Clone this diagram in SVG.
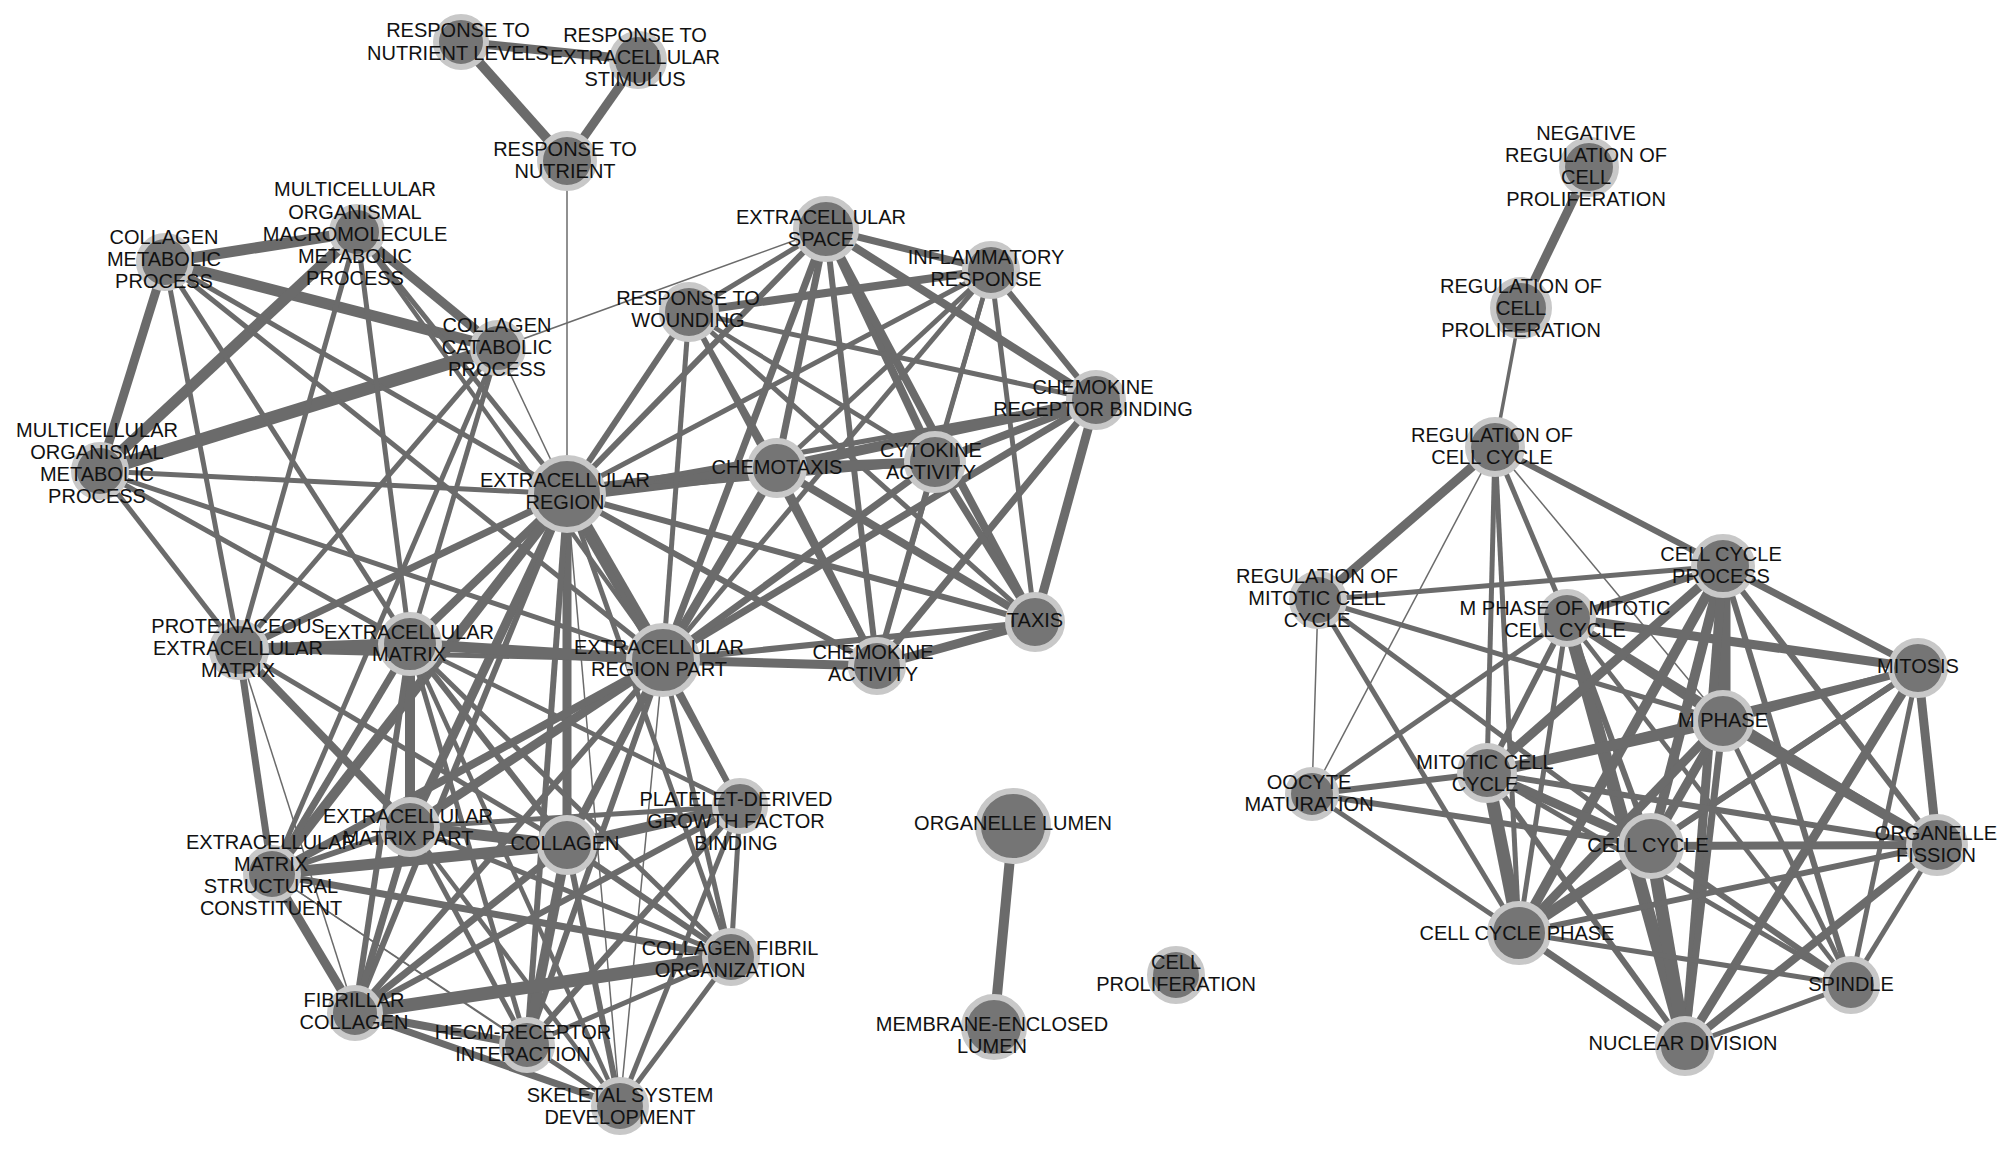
<svg xmlns="http://www.w3.org/2000/svg" width="2008" height="1153" viewBox="0 0 2008 1153">
<style>
.bg{fill:#ffffff}
#edges line{stroke:#6b6b6b;stroke-linecap:butt}
.w1{stroke-width:1.5}.w3{stroke-width:3.5}.w4{stroke-width:4.5}.w5{stroke-width:5}.w6{stroke-width:6}.w7{stroke-width:7}.w8{stroke-width:8}.w9{stroke-width:9}.w10{stroke-width:10}.w11{stroke-width:11}.w12{stroke-width:12}.w13{stroke-width:13}.w15{stroke-width:15}
.node circle{fill:#757575;stroke:#c8c8c8;stroke-width:6}
.node text{font-family:"Liberation Sans",Arial,Helvetica,sans-serif;font-size:20px;fill:#111;text-anchor:middle}
</style>
<rect class="bg" x="0" y="0" width="2008" height="1153"/>
<g id="edges">
<line class="w9" x1="461" y1="42" x2="638" y2="60"/>
<line class="w10" x1="461" y1="42" x2="567" y2="161"/>
<line class="w9" x1="638" y1="60" x2="567" y2="161"/>
<line class="w1" x1="567" y1="161" x2="567" y2="494"/>
<line class="w9" x1="1589" y1="167" x2="1521" y2="308"/>
<line class="w3" x1="1521" y1="308" x2="1495" y2="447"/>
<line class="w10" x1="1013" y1="826" x2="994" y2="1027"/>
<line class="w11" x1="165" y1="262" x2="357" y2="232"/>
<line class="w11" x1="165" y1="262" x2="498" y2="348"/>
<line class="w9" x1="165" y1="262" x2="100" y2="471"/>
<line class="w11" x1="357" y1="232" x2="100" y2="471"/>
<line class="w9" x1="357" y1="232" x2="498" y2="348"/>
<line class="w13" x1="498" y1="348" x2="100" y2="471"/>
<line class="w5" x1="165" y1="262" x2="239" y2="650"/>
<line class="w5" x1="165" y1="262" x2="410" y2="644"/>
<line class="w5" x1="165" y1="262" x2="567" y2="494"/>
<line class="w5" x1="165" y1="262" x2="663" y2="660"/>
<line class="w5" x1="357" y1="232" x2="239" y2="650"/>
<line class="w5" x1="357" y1="232" x2="410" y2="644"/>
<line class="w5" x1="357" y1="232" x2="567" y2="494"/>
<line class="w4" x1="357" y1="232" x2="663" y2="660"/>
<line class="w1" x1="498" y1="348" x2="826" y2="229"/>
<line class="w1" x1="498" y1="348" x2="567" y2="494"/>
<line class="w5" x1="498" y1="348" x2="239" y2="650"/>
<line class="w5" x1="498" y1="348" x2="410" y2="644"/>
<line class="w5" x1="498" y1="348" x2="272" y2="874"/>
<line class="w5" x1="100" y1="471" x2="567" y2="494"/>
<line class="w5" x1="100" y1="471" x2="239" y2="650"/>
<line class="w5" x1="100" y1="471" x2="410" y2="644"/>
<line class="w5" x1="100" y1="471" x2="663" y2="660"/>
<line class="w7" x1="567" y1="494" x2="239" y2="650"/>
<line class="w8" x1="567" y1="494" x2="410" y2="644"/>
<line class="w13" x1="567" y1="494" x2="663" y2="660"/>
<line class="w9" x1="567" y1="494" x2="410" y2="827"/>
<line class="w9" x1="567" y1="494" x2="567" y2="845"/>
<line class="w10" x1="567" y1="494" x2="272" y2="874"/>
<line class="w6" x1="567" y1="494" x2="355" y2="1013"/>
<line class="w6" x1="567" y1="494" x2="527" y2="1045"/>
<line class="w1" x1="567" y1="494" x2="620" y2="1106"/>
<line class="w5" x1="567" y1="494" x2="740" y2="806"/>
<line class="w5" x1="567" y1="494" x2="731" y2="957"/>
<line class="w12" x1="239" y1="650" x2="410" y2="644"/>
<line class="w8" x1="239" y1="650" x2="410" y2="827"/>
<line class="w7" x1="239" y1="650" x2="272" y2="874"/>
<line class="w1" x1="239" y1="650" x2="355" y2="1013"/>
<line class="w5" x1="239" y1="650" x2="567" y2="845"/>
<line class="w5" x1="239" y1="650" x2="663" y2="660"/>
<line class="w11" x1="410" y1="644" x2="663" y2="660"/>
<line class="w10" x1="410" y1="644" x2="410" y2="827"/>
<line class="w7" x1="410" y1="644" x2="272" y2="874"/>
<line class="w6" x1="410" y1="644" x2="567" y2="845"/>
<line class="w6" x1="410" y1="644" x2="355" y2="1013"/>
<line class="w5" x1="410" y1="644" x2="527" y2="1045"/>
<line class="w5" x1="410" y1="644" x2="731" y2="957"/>
<line class="w4" x1="410" y1="644" x2="620" y2="1106"/>
<line class="w4" x1="410" y1="644" x2="740" y2="806"/>
<line class="w9" x1="663" y1="660" x2="410" y2="827"/>
<line class="w8" x1="663" y1="660" x2="272" y2="874"/>
<line class="w8" x1="663" y1="660" x2="567" y2="845"/>
<line class="w6" x1="663" y1="660" x2="355" y2="1013"/>
<line class="w6" x1="663" y1="660" x2="527" y2="1045"/>
<line class="w1" x1="663" y1="660" x2="620" y2="1106"/>
<line class="w6" x1="663" y1="660" x2="740" y2="806"/>
<line class="w5" x1="663" y1="660" x2="731" y2="957"/>
<line class="w11" x1="410" y1="827" x2="567" y2="845"/>
<line class="w6" x1="410" y1="827" x2="272" y2="874"/>
<line class="w7" x1="410" y1="827" x2="355" y2="1013"/>
<line class="w5" x1="410" y1="827" x2="527" y2="1045"/>
<line class="w4" x1="410" y1="827" x2="620" y2="1106"/>
<line class="w5" x1="410" y1="827" x2="731" y2="957"/>
<line class="w5" x1="410" y1="827" x2="740" y2="806"/>
<line class="w11" x1="567" y1="845" x2="272" y2="874"/>
<line class="w7" x1="567" y1="845" x2="355" y2="1013"/>
<line class="w10" x1="567" y1="845" x2="527" y2="1045"/>
<line class="w6" x1="567" y1="845" x2="620" y2="1106"/>
<line class="w10" x1="567" y1="845" x2="740" y2="806"/>
<line class="w6" x1="567" y1="845" x2="731" y2="957"/>
<line class="w9" x1="272" y1="874" x2="355" y2="1013"/>
<line class="w1" x1="272" y1="874" x2="527" y2="1045"/>
<line class="w7" x1="272" y1="874" x2="731" y2="957"/>
<line class="w1" x1="272" y1="874" x2="620" y2="1106"/>
<line class="w13" x1="355" y1="1013" x2="731" y2="957"/>
<line class="w8" x1="355" y1="1013" x2="527" y2="1045"/>
<line class="w7" x1="355" y1="1013" x2="620" y2="1106"/>
<line class="w6" x1="355" y1="1013" x2="740" y2="806"/>
<line class="w4" x1="527" y1="1045" x2="620" y2="1106"/>
<line class="w6" x1="527" y1="1045" x2="740" y2="806"/>
<line class="w5" x1="527" y1="1045" x2="731" y2="957"/>
<line class="w5" x1="620" y1="1106" x2="740" y2="806"/>
<line class="w5" x1="620" y1="1106" x2="731" y2="957"/>
<line class="w5" x1="740" y1="806" x2="731" y2="957"/>
<line class="w6" x1="567" y1="494" x2="826" y2="229"/>
<line class="w6" x1="567" y1="494" x2="689" y2="312"/>
<line class="w5" x1="567" y1="494" x2="991" y2="270"/>
<line class="w15" x1="567" y1="494" x2="777" y2="468"/>
<line class="w5" x1="567" y1="494" x2="935" y2="462"/>
<line class="w5" x1="567" y1="494" x2="1096" y2="400"/>
<line class="w6" x1="567" y1="494" x2="1035" y2="622"/>
<line class="w6" x1="567" y1="494" x2="877" y2="666"/>
<line class="w5" x1="663" y1="660" x2="689" y2="312"/>
<line class="w7" x1="663" y1="660" x2="826" y2="229"/>
<line class="w5" x1="663" y1="660" x2="991" y2="270"/>
<line class="w7" x1="663" y1="660" x2="1096" y2="400"/>
<line class="w9" x1="663" y1="660" x2="777" y2="468"/>
<line class="w7" x1="663" y1="660" x2="935" y2="462"/>
<line class="w6" x1="663" y1="660" x2="1035" y2="622"/>
<line class="w9" x1="663" y1="660" x2="877" y2="666"/>
<line class="w5" x1="826" y1="229" x2="689" y2="312"/>
<line class="w7" x1="826" y1="229" x2="991" y2="270"/>
<line class="w8" x1="826" y1="229" x2="1096" y2="400"/>
<line class="w7" x1="826" y1="229" x2="777" y2="468"/>
<line class="w8" x1="826" y1="229" x2="935" y2="462"/>
<line class="w8" x1="826" y1="229" x2="1035" y2="622"/>
<line class="w6" x1="826" y1="229" x2="877" y2="666"/>
<line class="w8" x1="991" y1="270" x2="689" y2="312"/>
<line class="w6" x1="991" y1="270" x2="1096" y2="400"/>
<line class="w5" x1="991" y1="270" x2="777" y2="468"/>
<line class="w4" x1="991" y1="270" x2="935" y2="462"/>
<line class="w5" x1="991" y1="270" x2="1035" y2="622"/>
<line class="w4" x1="991" y1="270" x2="877" y2="666"/>
<line class="w5" x1="689" y1="312" x2="1096" y2="400"/>
<line class="w5" x1="689" y1="312" x2="777" y2="468"/>
<line class="w4" x1="689" y1="312" x2="935" y2="462"/>
<line class="w5" x1="689" y1="312" x2="1035" y2="622"/>
<line class="w5" x1="689" y1="312" x2="877" y2="666"/>
<line class="w10" x1="1096" y1="400" x2="777" y2="468"/>
<line class="w8" x1="1096" y1="400" x2="935" y2="462"/>
<line class="w9" x1="1096" y1="400" x2="1035" y2="622"/>
<line class="w7" x1="1096" y1="400" x2="877" y2="666"/>
<line class="w10" x1="777" y1="468" x2="935" y2="462"/>
<line class="w8" x1="777" y1="468" x2="1035" y2="622"/>
<line class="w7" x1="777" y1="468" x2="877" y2="666"/>
<line class="w7" x1="935" y1="462" x2="1035" y2="622"/>
<line class="w6" x1="935" y1="462" x2="877" y2="666"/>
<line class="w9" x1="1035" y1="622" x2="877" y2="666"/>
<line class="w9" x1="1495" y1="447" x2="1318" y2="600"/>
<line class="w6" x1="1495" y1="447" x2="1723" y2="566"/>
<line class="w1" x1="1495" y1="447" x2="1312" y2="794"/>
<line class="w5" x1="1495" y1="447" x2="1567" y2="618"/>
<line class="w5" x1="1495" y1="447" x2="1487" y2="773"/>
<line class="w5" x1="1495" y1="447" x2="1519" y2="933"/>
<line class="w1" x1="1495" y1="447" x2="1723" y2="721"/>
<line class="w5" x1="1318" y1="600" x2="1723" y2="566"/>
<line class="w1" x1="1318" y1="600" x2="1312" y2="794"/>
<line class="w5" x1="1318" y1="600" x2="1723" y2="721"/>
<line class="w5" x1="1318" y1="600" x2="1651" y2="846"/>
<line class="w5" x1="1318" y1="600" x2="1519" y2="933"/>
<line class="w5" x1="1312" y1="794" x2="1567" y2="618"/>
<line class="w6" x1="1312" y1="794" x2="1487" y2="773"/>
<line class="w6" x1="1312" y1="794" x2="1651" y2="846"/>
<line class="w5" x1="1312" y1="794" x2="1519" y2="933"/>
<line class="w7" x1="1567" y1="618" x2="1723" y2="566"/>
<line class="w9" x1="1567" y1="618" x2="1918" y2="668"/>
<line class="w8" x1="1567" y1="618" x2="1723" y2="721"/>
<line class="w13" x1="1567" y1="618" x2="1685" y2="1046"/>
<line class="w6" x1="1567" y1="618" x2="1651" y2="846"/>
<line class="w6" x1="1567" y1="618" x2="1487" y2="773"/>
<line class="w5" x1="1567" y1="618" x2="1519" y2="933"/>
<line class="w5" x1="1567" y1="618" x2="1937" y2="845"/>
<line class="w4" x1="1567" y1="618" x2="1851" y2="985"/>
<line class="w7" x1="1723" y1="566" x2="1918" y2="668"/>
<line class="w15" x1="1723" y1="566" x2="1723" y2="721"/>
<line class="w10" x1="1723" y1="566" x2="1651" y2="846"/>
<line class="w9" x1="1723" y1="566" x2="1487" y2="773"/>
<line class="w10" x1="1723" y1="566" x2="1519" y2="933"/>
<line class="w6" x1="1723" y1="566" x2="1937" y2="845"/>
<line class="w6" x1="1723" y1="566" x2="1851" y2="985"/>
<line class="w9" x1="1723" y1="566" x2="1685" y2="1046"/>
<line class="w8" x1="1918" y1="668" x2="1723" y2="721"/>
<line class="w5" x1="1918" y1="668" x2="1487" y2="773"/>
<line class="w9" x1="1918" y1="668" x2="1937" y2="845"/>
<line class="w5" x1="1918" y1="668" x2="1851" y2="985"/>
<line class="w9" x1="1918" y1="668" x2="1685" y2="1046"/>
<line class="w6" x1="1918" y1="668" x2="1651" y2="846"/>
<line class="w6" x1="1918" y1="668" x2="1519" y2="933"/>
<line class="w11" x1="1723" y1="721" x2="1487" y2="773"/>
<line class="w9" x1="1723" y1="721" x2="1651" y2="846"/>
<line class="w10" x1="1723" y1="721" x2="1937" y2="845"/>
<line class="w5" x1="1723" y1="721" x2="1851" y2="985"/>
<line class="w7" x1="1723" y1="721" x2="1685" y2="1046"/>
<line class="w9" x1="1723" y1="721" x2="1519" y2="933"/>
<line class="w9" x1="1487" y1="773" x2="1651" y2="846"/>
<line class="w13" x1="1487" y1="773" x2="1519" y2="933"/>
<line class="w6" x1="1487" y1="773" x2="1685" y2="1046"/>
<line class="w6" x1="1487" y1="773" x2="1937" y2="845"/>
<line class="w5" x1="1487" y1="773" x2="1851" y2="985"/>
<line class="w8" x1="1651" y1="846" x2="1937" y2="845"/>
<line class="w6" x1="1651" y1="846" x2="1851" y2="985"/>
<line class="w13" x1="1651" y1="846" x2="1685" y2="1046"/>
<line class="w11" x1="1651" y1="846" x2="1519" y2="933"/>
<line class="w6" x1="1519" y1="933" x2="1937" y2="845"/>
<line class="w5" x1="1519" y1="933" x2="1851" y2="985"/>
<line class="w7" x1="1519" y1="933" x2="1685" y2="1046"/>
<line class="w5" x1="1937" y1="845" x2="1851" y2="985"/>
<line class="w8" x1="1937" y1="845" x2="1685" y2="1046"/>
<line class="w5" x1="1851" y1="985" x2="1685" y2="1046"/>
</g>
<g id="nodes">
<g id="n-rnl" class="node"><circle cx="461" cy="42" r="25"/><text><tspan x="458" y="37">RESPONSE TO</tspan><tspan x="458" y="60">NUTRIENT LEVELS</tspan></text></g>
<g id="n-res" class="node"><circle cx="638" cy="60" r="26"/><text><tspan x="635" y="42">RESPONSE TO</tspan><tspan x="635" y="64">EXTRACELLULAR</tspan><tspan x="635" y="86">STIMULUS</tspan></text></g>
<g id="n-rn" class="node"><circle cx="567" cy="161" r="27"/><text><tspan x="565" y="156">RESPONSE TO</tspan><tspan x="565" y="178">NUTRIENT</tspan></text></g>
<g id="n-mmp" class="node"><circle cx="357" cy="232" r="25"/><text><tspan x="355" y="196">MULTICELLULAR</tspan><tspan x="355" y="219">ORGANISMAL</tspan><tspan x="355" y="241">MACROMOLECULE</tspan><tspan x="355" y="263">METABOLIC</tspan><tspan x="355" y="285">PROCESS</tspan></text></g>
<g id="n-cmp" class="node"><circle cx="165" cy="262" r="26"/><text><tspan x="164" y="244">COLLAGEN</tspan><tspan x="164" y="266">METABOLIC</tspan><tspan x="164" y="288">PROCESS</tspan></text></g>
<g id="n-ccp" class="node"><circle cx="498" cy="348" r="25"/><text><tspan x="497" y="332">COLLAGEN</tspan><tspan x="497" y="354">CATABOLIC</tspan><tspan x="497" y="376">PROCESS</tspan></text></g>
<g id="n-momp" class="node"><circle cx="100" cy="471" r="26"/><text><tspan x="97" y="437">MULTICELLULAR</tspan><tspan x="97" y="459">ORGANISMAL</tspan><tspan x="97" y="481">METABOLIC</tspan><tspan x="97" y="503">PROCESS</tspan></text></g>
<g id="n-er" class="node"><circle cx="567" cy="494" r="36"/><text><tspan x="565" y="487">EXTRACELLULAR</tspan><tspan x="565" y="509">REGION</tspan></text></g>
<g id="n-rw" class="node"><circle cx="689" cy="312" r="27"/><text><tspan x="688" y="305">RESPONSE TO</tspan><tspan x="688" y="327">WOUNDING</tspan></text></g>
<g id="n-es" class="node"><circle cx="826" cy="229" r="30"/><text><tspan x="821" y="224">EXTRACELLULAR</tspan><tspan x="821" y="246">SPACE</tspan></text></g>
<g id="n-ir" class="node"><circle cx="991" cy="270" r="26"/><text><tspan x="986" y="264">INFLAMMATORY</tspan><tspan x="986" y="286">RESPONSE</tspan></text></g>
<g id="n-crb" class="node"><circle cx="1096" cy="400" r="27"/><text><tspan x="1093" y="394">CHEMOKINE</tspan><tspan x="1093" y="416">RECEPTOR BINDING</tspan></text></g>
<g id="n-chx" class="node"><circle cx="777" cy="468" r="27"/><text><tspan x="777" y="474">CHEMOTAXIS</tspan></text></g>
<g id="n-cyt" class="node"><circle cx="935" cy="462" r="28"/><text><tspan x="931" y="457">CYTOKINE</tspan><tspan x="931" y="479">ACTIVITY</tspan></text></g>
<g id="n-tx" class="node"><circle cx="1035" cy="622" r="27"/><text><tspan x="1035" y="627">TAXIS</tspan></text></g>
<g id="n-erp" class="node"><circle cx="663" cy="660" r="34"/><text><tspan x="659" y="654">EXTRACELLULAR</tspan><tspan x="659" y="676">REGION PART</tspan></text></g>
<g id="n-cha" class="node"><circle cx="877" cy="666" r="26"/><text><tspan x="873" y="659">CHEMOKINE</tspan><tspan x="873" y="681">ACTIVITY</tspan></text></g>
<g id="n-pecm" class="node"><circle cx="239" cy="650" r="27"/><text><tspan x="238" y="633">PROTEINACEOUS</tspan><tspan x="238" y="655">EXTRACELLULAR</tspan><tspan x="238" y="677">MATRIX</tspan></text></g>
<g id="n-ecm" class="node"><circle cx="410" cy="644" r="29"/><text><tspan x="409" y="639">EXTRACELLULAR</tspan><tspan x="409" y="661">MATRIX</tspan></text></g>
<g id="n-ecmp" class="node"><circle cx="410" cy="827" r="27"/><text><tspan x="408" y="823">EXTRACELLULAR</tspan><tspan x="408" y="845">MATRIX PART</tspan></text></g>
<g id="n-col" class="node"><circle cx="567" cy="845" r="27"/><text><tspan x="565" y="850">COLLAGEN</tspan></text></g>
<g id="n-ecmsc" class="node"><circle cx="272" cy="874" r="26"/><text><tspan x="271" y="849">EXTRACELLULAR</tspan><tspan x="271" y="871">MATRIX</tspan><tspan x="271" y="893">STRUCTURAL</tspan><tspan x="271" y="915">CONSTITUENT</tspan></text></g>
<g id="n-fc" class="node"><circle cx="355" cy="1013" r="25"/><text><tspan x="354" y="1007">FIBRILLAR</tspan><tspan x="354" y="1029">COLLAGEN</tspan></text></g>
<g id="n-hecm" class="node"><circle cx="527" cy="1045" r="25"/><text><tspan x="523" y="1039">HECM-RECEPTOR</tspan><tspan x="523" y="1061">INTERACTION</tspan></text></g>
<g id="n-ssd" class="node"><circle cx="620" cy="1106" r="26"/><text><tspan x="620" y="1102">SKELETAL SYSTEM</tspan><tspan x="620" y="1124">DEVELOPMENT</tspan></text></g>
<g id="n-pdgf" class="node"><circle cx="740" cy="806" r="25"/><text><tspan x="736" y="806">PLATELET-DERIVED</tspan><tspan x="736" y="828">GROWTH FACTOR</tspan><tspan x="736" y="850">BINDING</tspan></text></g>
<g id="n-cfo" class="node"><circle cx="731" cy="957" r="26"/><text><tspan x="730" y="955">COLLAGEN FIBRIL</tspan><tspan x="730" y="977">ORGANIZATION</tspan></text></g>
<g id="n-ol" class="node"><circle cx="1013" cy="826" r="35"/><text><tspan x="1013" y="830">ORGANELLE LUMEN</tspan></text></g>
<g id="n-mel" class="node"><circle cx="994" cy="1027" r="30"/><text><tspan x="992" y="1031">MEMBRANE-ENCLOSED</tspan><tspan x="992" y="1053">LUMEN</tspan></text></g>
<g id="n-cp" class="node"><circle cx="1176" cy="975" r="26"/><text><tspan x="1176" y="969">CELL</tspan><tspan x="1176" y="991">PROLIFERATION</tspan></text></g>
<g id="n-nrcp" class="node"><circle cx="1589" cy="167" r="27"/><text><tspan x="1586" y="140">NEGATIVE</tspan><tspan x="1586" y="162">REGULATION OF</tspan><tspan x="1586" y="184">CELL</tspan><tspan x="1586" y="206">PROLIFERATION</tspan></text></g>
<g id="n-rcp" class="node"><circle cx="1521" cy="308" r="28"/><text><tspan x="1521" y="293">REGULATION OF</tspan><tspan x="1521" y="315">CELL</tspan><tspan x="1521" y="337">PROLIFERATION</tspan></text></g>
<g id="n-rcc" class="node"><circle cx="1495" cy="447" r="27"/><text><tspan x="1492" y="442">REGULATION OF</tspan><tspan x="1492" y="464">CELL CYCLE</tspan></text></g>
<g id="n-rmcc" class="node"><circle cx="1318" cy="600" r="26"/><text><tspan x="1317" y="583">REGULATION OF</tspan><tspan x="1317" y="605">MITOTIC CELL</tspan><tspan x="1317" y="627">CYCLE</tspan></text></g>
<g id="n-ccpr" class="node"><circle cx="1723" cy="566" r="29"/><text><tspan x="1721" y="561">CELL CYCLE</tspan><tspan x="1721" y="583">PROCESS</tspan></text></g>
<g id="n-mpmcc" class="node"><circle cx="1567" cy="618" r="26"/><text><tspan x="1565" y="615">M PHASE OF MITOTIC</tspan><tspan x="1565" y="637">CELL CYCLE</tspan></text></g>
<g id="n-mit" class="node"><circle cx="1918" cy="668" r="27"/><text><tspan x="1918" y="673">MITOSIS</tspan></text></g>
<g id="n-mph" class="node"><circle cx="1723" cy="721" r="28"/><text><tspan x="1723" y="727">M PHASE</tspan></text></g>
<g id="n-mcc" class="node"><circle cx="1487" cy="773" r="27"/><text><tspan x="1485" y="769">MITOTIC CELL</tspan><tspan x="1485" y="791">CYCLE</tspan></text></g>
<g id="n-om" class="node"><circle cx="1312" cy="794" r="24"/><text><tspan x="1309" y="789">OOCYTE</tspan><tspan x="1309" y="811">MATURATION</tspan></text></g>
<g id="n-cc" class="node"><circle cx="1651" cy="846" r="30"/><text><tspan x="1648" y="852">CELL CYCLE</tspan></text></g>
<g id="n-of" class="node"><circle cx="1937" cy="845" r="28"/><text><tspan x="1936" y="840">ORGANELLE</tspan><tspan x="1936" y="862">FISSION</tspan></text></g>
<g id="n-ccph" class="node"><circle cx="1519" cy="933" r="29"/><text><tspan x="1517" y="940">CELL CYCLE PHASE</tspan></text></g>
<g id="n-sp" class="node"><circle cx="1851" cy="985" r="26"/><text><tspan x="1851" y="991">SPINDLE</tspan></text></g>
<g id="n-nd" class="node"><circle cx="1685" cy="1046" r="27"/><text><tspan x="1683" y="1050">NUCLEAR DIVISION</tspan></text></g>
</g>
</svg>
